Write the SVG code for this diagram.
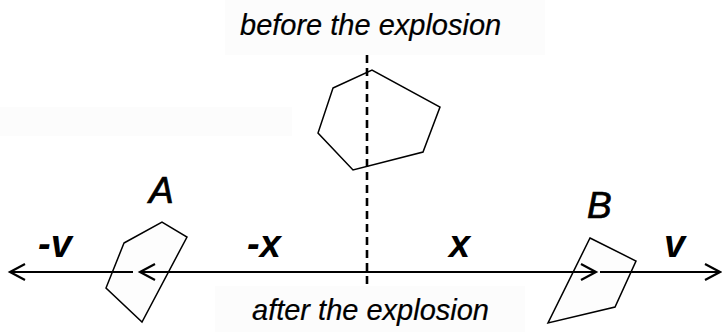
<svg xmlns="http://www.w3.org/2000/svg" width="722" height="332" viewBox="0 0 722 332">
  <style>
    .bg { fill: #fcfcfc; }
    .shape { fill: #ffffff; stroke: #000; stroke-width: 1.5; stroke-linejoin: miter; }
    .frag { fill: #fdfdfd; stroke: #000; stroke-width: 1.5; }
    .axis { stroke: #000; stroke-width: 2.2; fill: none; }
    .dash { stroke: #000; stroke-width: 2.6; stroke-dasharray: 8 5; fill: none; }
    .lbl { font-family: "Liberation Sans", Arial, sans-serif; font-style: italic; fill: #000; }
    .big { font-size: 37px; stroke: #000; stroke-width: 0.7; }
    .var { font-size: 38px; font-weight: bold; }
    .cap { font-size: 29px; stroke: #000; stroke-width: 0.2; }
  </style>
  <defs>
    <marker id="arr" markerUnits="userSpaceOnUse" markerWidth="20" markerHeight="20" viewBox="-17 -10 20 20" refX="0" refY="0" orient="auto">
      <path d="M -15 -8 L 0 0 L -15 8" fill="none" stroke="#000" stroke-width="2.2"/>
    </marker>
  </defs>
  <rect width="722" height="332" fill="#ffffff"/>
  <rect class="bg" x="225" y="0" width="320" height="55"/>
  <rect class="bg" x="0" y="107" width="292" height="29"/>
  <rect class="bg" x="215" y="286" width="310" height="46"/>

  <g id="before-label"><text class="lbl cap" x="240" y="35">before the explosion</text></g>
  <g id="after-label"><text class="lbl cap" x="252" y="320">after the explosion</text></g>

  <g id="object-before"><polygon class="shape" points="333,88 372,70 440,107 423,152 353,170 318,133"/></g>
  <g id="fragment-A">
    <polygon class="frag" points="124,243 162,222 187,237 142,322 106,288"/>
    <text class="lbl big" x="149" y="203">A</text>
  </g>
  <g id="fragment-B">
    <polygon class="frag" points="590,238 636,261 615,307 548,323"/>
    <text class="lbl big" x="587" y="218">B</text>
  </g>

  <g id="connectors">
    <line class="dash" x1="367" y1="55" x2="367" y2="287"/>
    <line class="axis" x1="368" y1="272" x2="140" y2="272" marker-end="url(#arr)"/>
    <line class="axis" x1="133" y1="272" x2="10" y2="272" marker-end="url(#arr)"/>
    <line class="axis" x1="367" y1="272" x2="596" y2="272" marker-end="url(#arr)"/>
    <line class="axis" x1="600" y1="272" x2="720" y2="272" marker-end="url(#arr)"/>
  </g>

  <g id="labels">
    <text class="lbl var" x="38" y="257">-v</text>
    <text class="lbl var" x="247" y="257">-x</text>
    <text class="lbl var" x="449" y="257">x</text>
    <text class="lbl var" x="664" y="257">v</text>
  </g>
</svg>
